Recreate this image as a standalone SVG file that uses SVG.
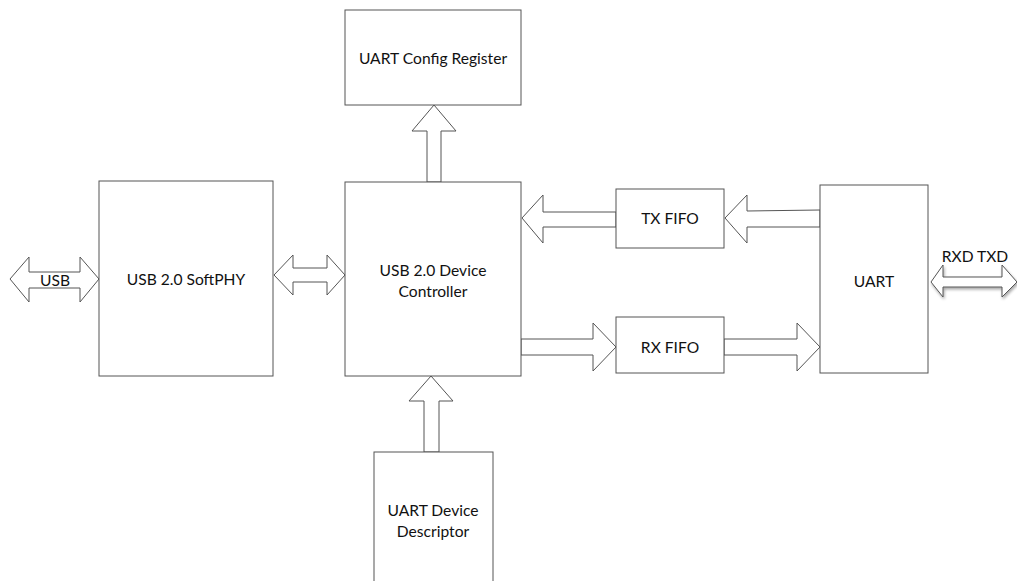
<svg xmlns="http://www.w3.org/2000/svg" width="1017" height="581" viewBox="0 0 1017 581">
<defs>
<style>
.box{fill:#fff;stroke:#555;stroke-width:1}
.arr{fill:#fff;stroke:#555;stroke-width:1;stroke-linejoin:miter}
.t{font-family:Lato,"Liberation Sans",sans-serif;font-size:15.6px;fill:#111;text-anchor:middle;dominant-baseline:central}
</style>
<filter id="sh" x="-10%" y="-30%" width="130%" height="180%">
<feGaussianBlur in="SourceAlpha" stdDeviation="1.5"/>
<feOffset dx="1" dy="2" result="b"/>
<feComponentTransfer><feFuncA type="linear" slope="0.35"/></feComponentTransfer>
<feMerge><feMergeNode/><feMergeNode in="SourceGraphic"/></feMerge>
</filter>
</defs>
<rect width="1017" height="581" fill="#fff"/>

<g id="connectors">
<polygon class="arr" points="10,279 29,257 29,272 80,272 80,257 99,279 80,302 80,288 29,288 29,302"/>
<polygon class="arr" points="274,275 293,255 293,268 327,268 327,255 345,275 327,295 327,282 293,282 293,295"/>
<polygon class="arr" points="434,105 456,131 441,131 441,182 427,182 427,131 412,131"/>
<polygon class="arr" points="431,376 453,401 439,401 439,452 424,452 424,401 409,401"/>
<polygon class="arr" points="522,218 543,195 543,212 616,212 616,227 543,227 543,243"/>
<polygon class="arr" points="725,218 747,195 747,211 820,210 820,227 747,227 747,243"/>
<polygon class="arr" points="616,347 593,323 593,339 521,339 521,355 593,355 593,371"/>
<polygon class="arr" points="820,347 797,323 797,339 724,339 724,355 797,355 797,371"/>
<polygon class="arr" filter="url(#sh)" points="931,282 943,265 943,277 1002,277 1002,265 1017,282 1002,297 1002,287 943,287 943,297"/>
<text class="t" x="55" y="280">USB</text>
<text class="t" x="975" y="256">RXD TXD</text>
</g>

<g id="uart-config">
<rect class="box" x="345" y="10" width="176" height="95"/>
<text class="t" x="433" y="58">UART Config Register</text>
</g>
<g id="softphy">
<rect class="box" x="99" y="181" width="174" height="195"/>
<text class="t" x="186" y="279">USB 2.0 SoftPHY</text>
</g>
<g id="controller">
<rect class="box" x="345" y="182" width="176" height="194"/>
<text class="t" x="433" y="270">USB 2.0 Device</text>
<text class="t" x="433" y="291">Controller</text>
</g>
<g id="txfifo">
<rect class="box" x="616" y="189" width="108" height="59"/>
<text class="t" x="670" y="218">TX FIFO</text>
</g>
<g id="rxfifo">
<rect class="box" x="616" y="317" width="108" height="56"/>
<text class="t" x="670" y="347">RX FIFO</text>
</g>
<g id="uart">
<rect class="box" x="820" y="185" width="108" height="188"/>
<text class="t" x="874" y="281">UART</text>
</g>
<g id="descriptor">
<rect class="box" x="374" y="452" width="119" height="140"/>
<text class="t" x="433" y="510">UART Device</text>
<text class="t" x="433" y="531">Descriptor</text>
</g>
</svg>
